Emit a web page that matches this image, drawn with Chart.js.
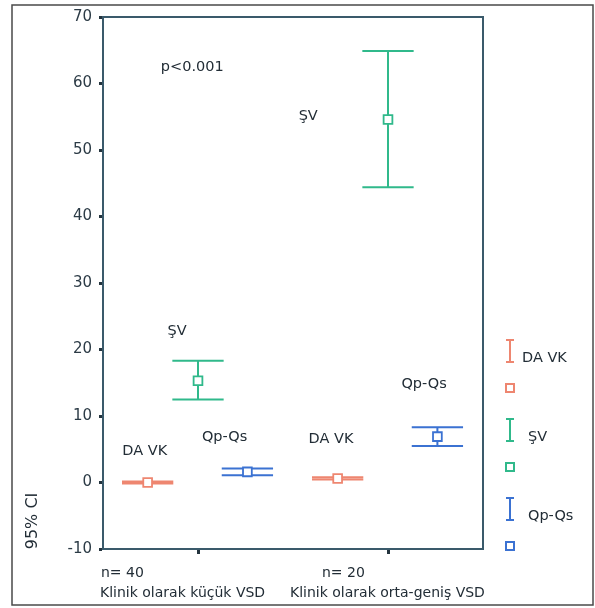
<!DOCTYPE html>
<html>
<head>
<meta charset="utf-8">
<script src="https://cdn.jsdelivr.net/npm/chart.js@4"></script>
<style>
  html, body { margin: 0; padding: 0; background: #fff; }
  #wrap { width: 595px; height: 608px; }
</style>
</head>
<body>
<div id="wrap"><canvas id="ciChart" width="595" height="608"></canvas></div>
<script>
// groups on the x axis
var groupNames = ['Klinik olarak küçük VSD', 'Klinik olarak orta-geniş VSD'];
var groupCounts = ['n= 40', 'n= 20'];

// series: mean and 95% CI bounds per group
var seriesNames = ['DA VK', 'ŞV', 'Qp-Qs'];
var daVkMean = [0.0, 0.6];
var daVkLow = [-0.15, 0.45];
var daVkHigh = [0.15, 0.8];
var svMean = [15.3, 54.6];
var svLow = [12.5, 44.4];
var svHigh = [18.3, 64.9];
var qpQsMean = [1.6, 6.9];
var qpQsLow = [1.1, 5.5];
var qpQsHigh = [2.1, 8.3];

var yTicks = [-10, 0, 10, 20, 30, 40, 50, 60, 70];

// free text in the plot, in data units
var noteLabels = [
    { text: 'p<0.001', x: 0.47, y: 62.4 },
    { text: 'ŞV', x: 1.08, y: 55.1 },
    { text: 'ŞV', x: 0.39, y: 22.7 },
    { text: 'DA VK', x: 0.22, y: 4.7 },
    { text: 'Qp-Qs', x: 0.64, y: 6.8 },
    { text: 'DA VK', x: 1.2, y: 6.5 },
    { text: 'Qp-Qs', x: 1.69, y: 14.8 }
];

var COLORS = ['#ee8670', '#30b98b', '#3b72d2'];
var OFFSETS = [-0.265, 0, 0.26];   // position of each series inside a group
var CAP = 0.135;                    // half width of CI caps, x units
var FONT = '"DejaVu Sans", Verdana, sans-serif';
var TEXT = '#222d36';
var AXIS = '#3a5a6b';

function buildData(means, lows, highs, s) {
    return groupNames.map(function (g, i) {
        return { x: i + 0.5 + OFFSETS[s], y: means[i], low: lows[i], high: highs[i] };
    });
}

var allSeries = [
    buildData(daVkMean, daVkLow, daVkHigh, 0),
    buildData(svMean, svLow, svHigh, 1),
    buildData(qpQsMean, qpQsLow, qpQsHigh, 2)
];

var errorBars = {
    id: 'errorBars',
    beforeDatasetsDraw: function (chart) {
        var ctx = chart.ctx, xs = chart.scales.x, ys = chart.scales.y;
        ctx.save();
        chart.data.datasets.forEach(function (ds) {
            ctx.strokeStyle = ds.borderColor;
            ctx.lineWidth = 2;
            ds.data.forEach(function (p) {
                var px = xs.getPixelForValue(p.x);
                var half = xs.getPixelForValue(p.x + CAP) - px;
                var yl = ys.getPixelForValue(p.low), yh = ys.getPixelForValue(p.high);
                ctx.beginPath();
                ctx.moveTo(px, yl); ctx.lineTo(px, yh);
                ctx.moveTo(px - half, yl); ctx.lineTo(px + half, yl);
                ctx.moveTo(px - half, yh); ctx.lineTo(px + half, yh);
                ctx.stroke();
            });
        });
        ctx.restore();
    }
};

var decorations = {
    id: 'decorations',
    beforeDraw: function (chart) {
        var ctx = chart.ctx;
        ctx.save();
        ctx.strokeStyle = '#4a4a4a';
        ctx.lineWidth = 1.5;
        ctx.strokeRect(12, 5, chart.width - 14, chart.height - 8);
        ctx.restore();
    },
    afterDraw: function (chart) {
        var ctx = chart.ctx, a = chart.chartArea;
        var xs = chart.scales.x, ys = chart.scales.y;
        ctx.save();
        // top and right frame
        ctx.strokeStyle = AXIS;
        ctx.lineWidth = 2;
        ctx.beginPath();
        ctx.moveTo(a.left, a.top); ctx.lineTo(a.right, a.top); ctx.lineTo(a.right, a.bottom);
        ctx.stroke();

        ctx.fillStyle = TEXT;
        ctx.font = '14.5px ' + FONT;
        ctx.textAlign = 'center';
        ctx.textBaseline = 'middle';
        noteLabels.forEach(function (n) {
            ctx.fillText(n.text, xs.getPixelForValue(n.x), ys.getPixelForValue(n.y));
        });

        // x category labels
        ctx.font = '14px ' + FONT;
        ctx.textAlign = 'left';
        var countShift = [-97, -66];
        groupNames.forEach(function (g, i) {
            var px = xs.getPixelForValue(i + 0.5);
            ctx.fillText(groupCounts[i], px + countShift[i], a.bottom + 24);
            ctx.fillText(g, px - 98, a.bottom + 44);
        });

        // y title
        ctx.save();
        ctx.translate(33, 521);
        ctx.rotate(-Math.PI / 2);
        ctx.textAlign = 'center';
        ctx.font = '16px ' + FONT;
        ctx.fillText('95% CI', 0, 0);
        ctx.restore();

        // legend: CI glyph with name, then square marker
        var lx = a.right + 27, top0 = 340, step = 79;
        ctx.font = '14.5px ' + FONT;
        seriesNames.forEach(function (name, s) {
            var t = top0 + s * step;
            ctx.strokeStyle = COLORS[s];
            ctx.lineWidth = 2;
            ctx.beginPath();
            ctx.moveTo(lx, t); ctx.lineTo(lx, t + 22);
            ctx.moveTo(lx - 4, t); ctx.lineTo(lx + 4, t);
            ctx.moveTo(lx - 4, t + 22); ctx.lineTo(lx + 4, t + 22);
            ctx.stroke();
            ctx.strokeRect(lx - 4, t + 44, 8, 8);
            ctx.fillStyle = TEXT;
            ctx.textAlign = 'left';
            ctx.fillText(name, lx + (s === 0 ? 12 : 18), t + 18);
        });
        ctx.restore();
    }
};

new Chart(document.getElementById('ciChart'), {
    type: 'scatter',
    data: {
        datasets: seriesNames.map(function (name, s) {
            return {
                label: name,
                data: allSeries[s],
                borderColor: COLORS[s],
                backgroundColor: '#ffffff',
                pointStyle: 'rect',
                pointRadius: 6.2,
                pointBorderWidth: 1.8,
                showLine: false
            };
        })
    },
    options: {
        responsive: false,
        animation: false,
        layout: { padding: { left: 0, top: 17, right: 112, bottom: 0 } },
        plugins: { legend: { display: false }, tooltip: { enabled: false } },
        scales: {
            x: {
                type: 'linear',
                min: 0,
                max: 2,
                afterBuildTicks: function (scale) {
                    scale.ticks = groupNames.map(function (g, i) { return { value: i + 0.5 }; });
                },
                afterFit: function (scale) { scale.height = 59; },
                ticks: { callback: function () { return ''; } },
                grid: { drawOnChartArea: false, tickLength: 5, tickWidth: 3, tickColor: '#24343e' },
                border: { color: AXIS, width: 2 }
            },
            y: {
                min: -10,
                max: 70,
                afterBuildTicks: function (scale) {
                    scale.ticks = yTicks.map(function (v) { return { value: v }; });
                },
                afterFit: function (scale) { scale.width = 103; },
                ticks: { color: '#2c3b46', font: { family: FONT, size: 15 }, padding: 7 },
                grid: { drawOnChartArea: false, tickLength: 4, tickWidth: 3, tickColor: '#24343e' },
                border: { color: AXIS, width: 2 }
            }
        }
    },
    plugins: [errorBars, decorations]
});
</script>
</body>
</html>
